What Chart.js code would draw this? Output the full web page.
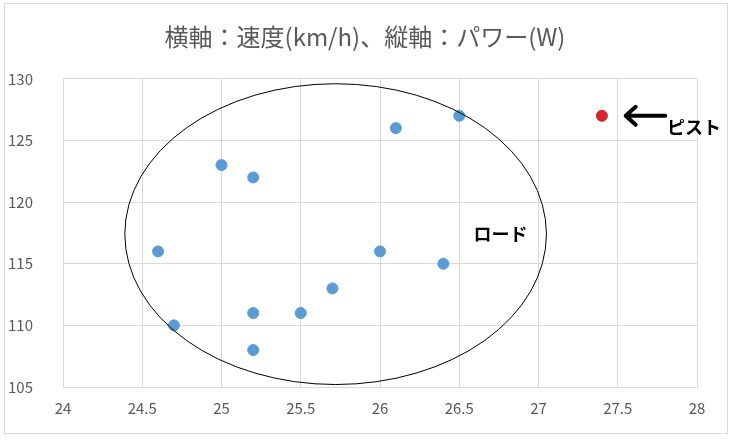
<!DOCTYPE html>
<html>
<head>
<meta charset="utf-8">
<script src="https://cdn.jsdelivr.net/npm/chart.js@4.4.1/dist/chart.umd.min.js"></script>
<style>
  html, body { margin: 0; padding: 0; background: #fff; }
  #wrap { position: relative; width: 730px; height: 442px; }
  #frame { position: absolute; left: 4px; top: 3px; width: 722px; height: 429px; border: 1px solid #d9d9d9; pointer-events: none; }
</style>
</head>
<body>
<div id="wrap">
  <canvas id="chart" width="730" height="442"></canvas>
  <div id="frame"></div>
</div>
<script>
// data
const title = `横軸：速度(km/h)、縦軸：パワー(W)`
const roadSpeed = [24.6, 24.7, 25.0, 25.2, 25.2, 25.2, 25.5, 25.7, 26.0, 26.1, 26.4, 26.5]
const roadPower = [116, 110, 123, 122, 111, 108, 111, 113, 116, 126, 115, 127]
const pistSpeed = [27.4]
const pistPower = [127]
const xTicks = [24, 28, 0.5]   // min, max, step
const yTicks = [105, 130, 5]

// hand-drawn annotations, in data units
const roadLabel = `ロード`
const pistLabel = `ピスト`
const ellipse = { cx: 25.72, cy: 117.4, rx: 1.33, ry: 12.2 }

const toPoints = (xs, ys) => xs.map((x, i) => ({ x: x, y: ys[i] }))

const annotations = {
    id: `annotations`,
    afterDatasetsDraw(chart) {
        const ctx = chart.ctx
        const x = chart.scales.x
        const y = chart.scales.y
        ctx.save()

        // ellipse round the road points
        const cx = x.getPixelForValue(ellipse.cx)
        const cy = y.getPixelForValue(ellipse.cy)
        const rx = x.getPixelForValue(ellipse.cx + ellipse.rx) - cx
        const ry = cy - y.getPixelForValue(ellipse.cy + ellipse.ry)
        ctx.beginPath()
        ctx.ellipse(cx, cy, rx, ry, 0, 0, Math.PI * 2)
        ctx.strokeStyle = `#000`
        ctx.lineWidth = 1
        ctx.stroke()

        ctx.fillStyle = `#000`
        ctx.font = `bold 18px "Noto Sans CJK JP"`
        ctx.textBaseline = `middle`
        ctx.textAlign = `left`
        ctx.fillText(roadLabel, x.getPixelForValue(26.59), y.getPixelForValue(117.4))

        // arrow pointing at the pist point
        const ax1 = x.getPixelForValue(27.55)
        const ax2 = x.getPixelForValue(27.8)
        const ay = y.getPixelForValue(127)
        ctx.lineWidth = 4
        ctx.lineCap = `round`
        ctx.lineJoin = `round`
        ctx.beginPath()
        ctx.moveTo(ax2, ay)
        ctx.lineTo(ax1, ay)
        ctx.moveTo(ax1 + 10, ay - 9)
        ctx.lineTo(ax1, ay)
        ctx.lineTo(ax1 + 10, ay + 9)
        ctx.stroke()

        ctx.fillText(pistLabel, x.getPixelForValue(27.81), y.getPixelForValue(126.1))
        ctx.restore()
    }
}

const whiteBg = {
    id: `whiteBg`,
    beforeDraw(chart) {
        const ctx = chart.ctx
        ctx.save()
        ctx.fillStyle = `#fff`
        ctx.fillRect(0, 0, chart.width, chart.height)
        ctx.restore()
    }
}

new Chart(document.getElementById(`chart`), {
    type: `scatter`,
    data: {
        datasets: [{
            label: `road`,
            data: toPoints(roadSpeed, roadPower),
            backgroundColor: `#5b9bd5`,
            borderColor: `#5b9bd5`,
            pointRadius: 5.5
        }, {
            label: `pist`,
            data: toPoints(pistSpeed, pistPower),
            backgroundColor: `#d8232a`,
            borderColor: `#d8232a`,
            pointRadius: 5.5
        }]
    },
    options: {
        responsive: false,
        animation: false,
        layout: { padding: 0 },
        plugins: {
            legend: { display: false },
            tooltip: { enabled: false },
            title: {
                display: true,
                text: title,
                color: `#595959`,
                font: { family: `"Noto Sans CJK JP"`, size: 24, weight: `normal` },
                padding: { top: 22, bottom: 28 }
            }
        },
        scales: {
            x: {
                type: `linear`,
                min: xTicks[0],
                max: xTicks[1],
                ticks: {
                    stepSize: xTicks[2],
                    color: `#595959`,
                    font: { family: `"Noto Sans CJK JP"`, size: 15 },
                    padding: 12,
                    callback: v => String(v)
                },
                grid: { color: `#d9d9d9`, drawTicks: false, lineWidth: 1 },
                border: { color: `#d9d9d9` },
                afterFit(s) { s.height = 55 }
            },
            y: {
                min: yTicks[0],
                max: yTicks[1],
                ticks: {
                    stepSize: yTicks[2],
                    color: `#595959`,
                    font: { family: `"Noto Sans CJK JP"`, size: 15 },
                    padding: 30
                },
                grid: { color: `#d9d9d9`, drawTicks: false, lineWidth: 1 },
                border: { color: `#d9d9d9` },
                afterFit(s) { s.width = 63 }
            },
            // empty right-hand strip so the title centres on the whole frame
            yRight: {
                position: `right`,
                min: yTicks[0],
                max: yTicks[1],
                ticks: { display: false },
                grid: { display: false, drawTicks: false },
                border: { display: false },
                afterFit(s) { s.width = 33 }
            }
        }
    },
    plugins: [whiteBg, annotations]
})
</script>
</body>
</html>
